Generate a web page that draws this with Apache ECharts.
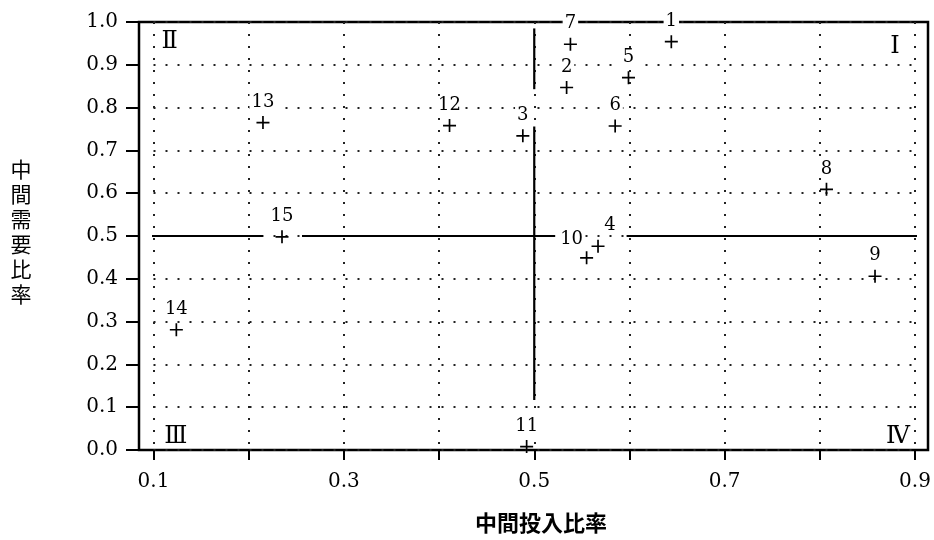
<!DOCTYPE html>
<html>
<head>
<meta charset="utf-8">
<script src="https://cdn.jsdelivr.net/npm/echarts@6/dist/echarts.min.js"></script>
<style>html,body{margin:0;padding:0;background:#fff}#c{width:934px;height:540px}</style>
</head>
<body>
<div id="c"></div>
<script>
// ---- data ----
const pointNames = ['1','2','3','4','5','6','7','8','9','10','11','12','13','14','15'];
const pointX = [0.644,0.534,0.488,0.567,0.599,0.585,0.538,0.807,0.858,0.555,0.492,0.411,0.215,0.124,0.235];
const pointY = [0.954,0.847,0.734,0.476,0.870,0.757,0.948,0.609,0.406,0.449,0.008,0.758,0.765,0.281,0.498];

const quadrantNames = ['Ⅰ','Ⅱ','Ⅲ','Ⅳ'];
const quadrantX = [0.879,0.117,0.1235,0.882];
const quadrantY = [0.941,0.953,0.030,0.030];

// dividing lines (broken where labels/markers sit)
const hLineY = 0.5;
const hLineSegments = [[0.0848,0.215],[0.256,0.522],[0.597,0.9137]];
const vLineX = 0.5;
const vLineSegments = [[0.985,0.843],[0.756,0.117]];

const xTickLabels = ['0.1','0.3','0.5','0.7','0.9'];
const yTickLabels = ['0.0','0.1','0.2','0.3','0.4','0.5','0.6','0.7','0.8','0.9','1.0'];

const xTitle = '中間投入比率';
const yTitle = '中間需要比率';

// ---- chart ----
const chart = echarts.init(document.getElementById('c'), null, {renderer:'canvas'});
const serif = 'DejaVu Serif';
const ink = '#000';

const labelOffsets = { '10': [-15, 2], '4': [12, 0] };

const plusPath = 'path://M4.35,0h1.3v10h-1.3z M0,4.35h10v1.3h-10z';

const series = [];
hLineSegments.forEach(function (s) {
  series.push({
    type:'line', xAxisIndex:1, yAxisIndex:1, clip:false, symbol:'none', silent:true, z:3,
    lineStyle:{color:ink, width:2.2},
    data:[[s[0], hLineY],[s[1], hLineY]]
  });
});
vLineSegments.forEach(function (s) {
  series.push({
    type:'line', xAxisIndex:1, yAxisIndex:1, clip:false, symbol:'none', silent:true, z:3,
    lineStyle:{color:ink, width:2.2},
    data:[[vLineX, s[0]],[vLineX, s[1]]]
  });
});
series.push({
  type:'scatter', xAxisIndex:1, yAxisIndex:1, clip:false, z:6,
  symbol: plusPath, symbolSize: 13,
  itemStyle:{color:ink, opacity:1},
  data: pointNames.map(function (n, i) {
    const off = labelOffsets[n] || [0, 0];
    return {
      name:n, value:[pointX[i], pointY[i]],
      label:{offset:off}
    };
  }),
  label:{
    show:true, position:'top', distance:5,
    formatter:function (p) { return p.name; },
    fontFamily:serif, fontSize:18, color:ink,
    backgroundColor:'#fff', padding:[0,2,0,2]
  }
});
series.push({
  type:'scatter', xAxisIndex:1, yAxisIndex:1, clip:false, z:6,
  symbol:'circle', symbolSize:1,
  itemStyle:{color:'rgba(255,255,255,0)'},
  data: quadrantNames.map(function (n, i) { return {name:n, value:[quadrantX[i], quadrantY[i]]}; }),
  label:{
    show:true, position:'inside',
    formatter:function (p) { return p.name; },
    fontFamily:serif, fontSize:24, color:ink, opacity:1
  }
});

const dotted = {color:'#222', width:2, type:[2,10]};

chart.setOption({
  animation:false,
  backgroundColor:'#fff',
  grid:[
    {left:139, right:6, top:22, bottom:90, show:true, borderColor:ink, borderWidth:2.5, backgroundColor:'transparent'},
    {left:153.5, right:19, top:22, bottom:90}
  ],
  xAxis:[
    {gridIndex:0, type:'value', show:false, min:0, max:1},
    {gridIndex:1, type:'value', min:0.1, max:0.9, interval:0.1,
     axisLine:{show:false},
     axisTick:{show:true, length:10, lineStyle:{color:ink, width:2}},
     splitLine:{show:true, lineStyle:dotted},
     axisLabel:{
       margin:22, fontFamily:serif, fontSize:20, color:ink,
       formatter:function (v) { const t = Number(v).toFixed(1); return xTickLabels.indexOf(t) >= 0 ? t : ''; }
     }
    }
  ],
  yAxis:[
    {gridIndex:0, type:'value', show:false, min:0, max:1},
    {gridIndex:1, type:'value', min:0, max:1, interval:0.1, offset:14.5,
     axisLine:{show:false},
     axisTick:{show:true, length:13, lineStyle:{color:ink, width:2}},
     splitLine:{show:true, lineStyle:dotted},
     axisLabel:{
       margin:21, fontFamily:serif, fontSize:20, color:ink,
       formatter:function (v) { const t = Number(v).toFixed(1); return yTickLabels.indexOf(t) >= 0 ? t : ''; }
     }
    }
  ],
  graphic:[
    {type:'text', x:541, y:523, style:{text:xTitle, fontFamily:'Noto Sans CJK JP', fontSize:22, fontWeight:'bold', fill:ink, textAlign:'center', textVerticalAlign:'middle'}},
    {type:'text', x:21, y:232, style:{text:yTitle.split('').join('\n'), fontFamily:'Noto Sans CJK JP', fontSize:21, lineHeight:25, fill:ink, textAlign:'center', textVerticalAlign:'middle'}}
  ],
  series:series
});
</script>
</body>
</html>
